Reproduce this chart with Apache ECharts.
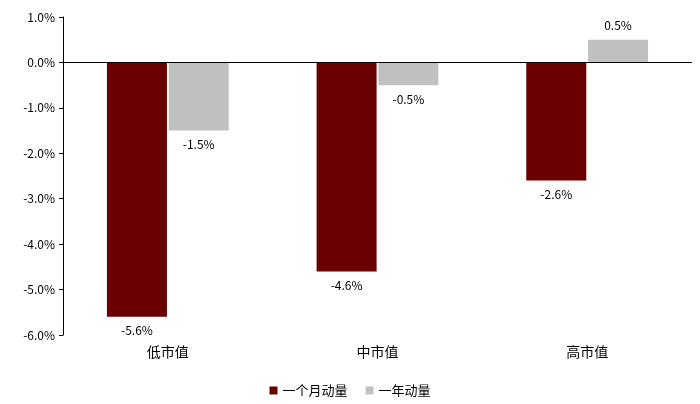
<!DOCTYPE html>
<html><head><meta charset="utf-8">
<script src="https://cdn.jsdelivr.net/npm/echarts@6/dist/echarts.min.js"></script>
<style>html,body{margin:0;padding:0;background:#fff}#chart{width:700px;height:404px}</style>
</head><body><div id="chart"></div>
<script>
var categories=['低市值','中市值','高市值'];
var seriesNames=['一个月动量','一年动量'];
var monthData=[-5.6,-4.6,-2.6];
var yearData=[-1.5,-0.5,0.5];

function mk(arr){
	return arr.map(function(v){
		return {value:v,label:{position:v<0?'bottom':'top'}};
	});
}
var font='"Noto Sans CJK SC", "Noto Sans", sans-serif';
var option={
	textStyle:{fontFamily:font},
	grid:{left:63,right:8,top:17,bottom:69},
	legend:{data:seriesNames,bottom:2,left:'center',itemWidth:8,itemHeight:8,itemGap:18,
		icon:'rect',textStyle:{fontSize:13,color:'#000'}},
	xAxis:{type:'category',data:categories,
		axisLine:{show:false,onZero:false},axisTick:{show:false},
		axisLabel:{fontSize:14,color:'#000',margin:10}},
	yAxis:{type:'value',min:-6,max:1,interval:1,
		axisLine:{show:true,lineStyle:{color:'#000'}},
		axisTick:{show:true,inside:false,length:4,lineStyle:{color:'#000'}},
		splitLine:{show:false},
		axisLabel:{fontSize:12,color:'#000',formatter:function(v){return v.toFixed(1)+'%';}}},
	series:[
		{name:seriesNames[0],type:'bar',barWidth:60,barGap:'3%',data:mk(monthData),
			itemStyle:{color:'#6B0000'},
			label:{show:true,fontSize:12,color:'#000',distance:8,formatter:function(p){return p.value.toFixed(1)+'%';}},
			markLine:{silent:true,symbol:'none',label:{show:false},lineStyle:{color:'#000',type:'solid',width:1},data:[{yAxis:0}]}},
		{name:seriesNames[1],type:'bar',barWidth:60,data:mk(yearData),
			itemStyle:{color:'#C0C0C0'},
			label:{show:true,fontSize:12,color:'#000',distance:8,formatter:function(p){return p.value.toFixed(1)+'%';}}}
	]
};
var mychart=echarts.init(document.getElementById('chart'));
mychart.setOption(option);
</script></body></html>
